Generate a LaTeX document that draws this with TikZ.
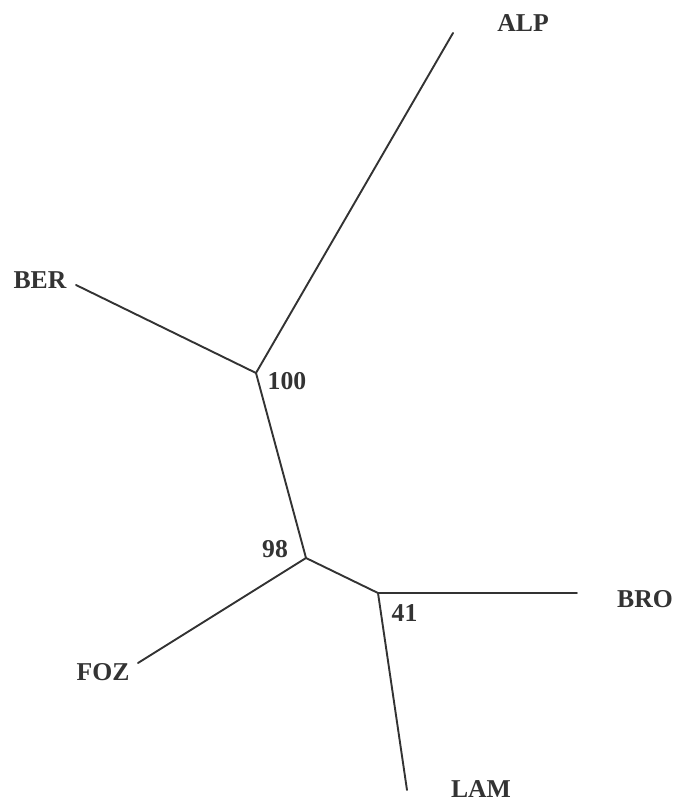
\documentclass[tikz,border=0pt]{standalone}
\usepackage{fontspec}
\setmainfont{Liberation Serif}
\begin{document}
\begin{tikzpicture}[x=1pt,y=1pt,
  branch/.style={line width=1.9pt,draw=black!80,line cap=round},
  taxon/.style={anchor=base,inner sep=0pt,text=black!80,font=\fontsize{25.7}{28}\selectfont\bfseries}]
\useasboundingbox (0,0) rectangle (675,804);
\coordinate (n100) at (256,431);
\coordinate (n98) at (306,246);
\coordinate (n41) at (378,211);
\coordinate (eALP) at (453,771);
\coordinate (eBER) at (76,519);
\coordinate (eFOZ) at (138,141);
\coordinate (eBRO) at (577,211);
\coordinate (eLAM) at (407,14);
\draw[branch] (eALP) -- (n100);
\draw[branch] (eBER) -- (n100);
\draw[branch] (n100) -- (n98);
\draw[branch] (n98) -- (eFOZ);
\draw[branch] (n98) -- (n41);
\draw[branch] (n41) -- (eBRO);
\draw[branch] (n41) -- (eLAM);
\node[taxon] (lALP) at (523,772) {ALP};
\node[taxon] (lBER) at (40,515) {BER};
\node[taxon] (lFOZ) at (103,123) {FOZ};
\node[taxon] (lBRO) at (645,196) {BRO};
\node[taxon] (lLAM) at (481,6.5) {LAM};
\node[taxon] (b100) at (287,414) {100};
\node[taxon] (b98) at (275,246) {98};
\node[taxon] (b41) at (404.5,182) {41};
\end{tikzpicture}
\end{document}
